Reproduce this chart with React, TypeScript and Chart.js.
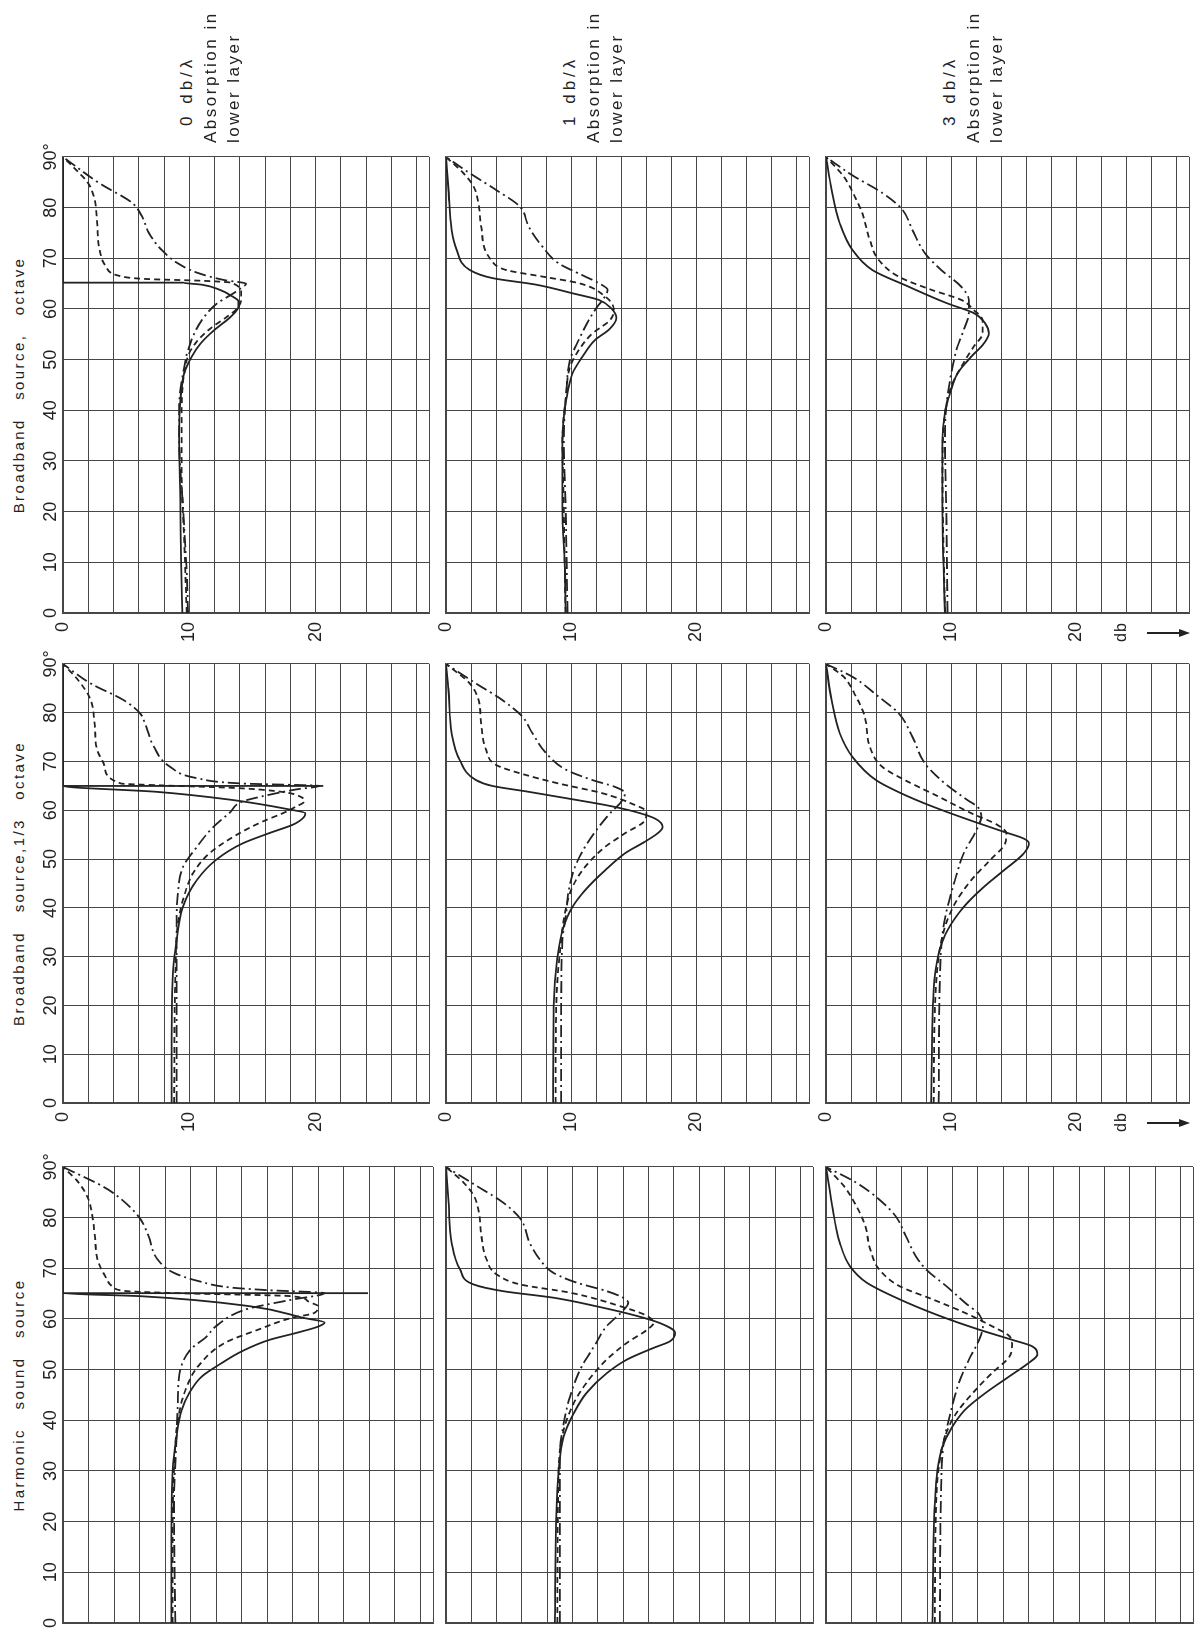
import React, { useEffect, useRef } from 'react';
import { Chart, registerables } from 'chart.js';

Chart.register(...registerables);

type Pt = [number, number];

// ---------- axis values ----------
const angleTicks = [0, 10, 20, 30, 40, 50, 60, 70, 80, 90];
const dbGrid = [0, 2, 4, 6, 8, 10, 12, 14, 16, 18, 20, 22, 24, 26, 28, 29];
const dbLabels = [0, 10, 20];
const ANGLE_MAX = 90;
const DB_MAX = 29;

// ---------- titles ----------
const sourceTitles = ['Harmonic sound source', 'Broadband source,1/3 octave', 'Broadband source, octave'];
const absorptionTitles = ['0 db/λ', '1 db/λ', '3 db/λ'];
const absorptionLine2 = 'Absorption in';
const absorptionLine3 = 'lower layer';
const unitLabel = 'db';

// ---------- data: [angle (deg), level (db)] ----------
// Harmonic sound source
const harm0Solid: Pt[] = [[0, 8.5], [17, 8.5], [30, 8.6], [36.8, 8.9], [42, 9.3], [45.4, 9.9], [48.7, 10.9], [51.4, 12.5], [53.6, 14], [55.9, 16.2], [57.2, 18.2], [58.5, 20], [59.3, 20.5], [60.2, 18.9], [62.5, 14.7], [64.5, 6.1], [65.1, 0], [65.1, 23.9], [65.1, 0], [90, 0]];
const harm0Dashed: Pt[] = [[0, 8.6], [20, 8.6], [35, 8.8], [40, 9], [46, 9.6], [50.7, 10.6], [55.3, 12.7], [57.9, 15.3], [60.2, 17.9], [61.2, 19.7], [62.5, 20], [63.5, 19.2], [64.5, 17.9], [65.1, 9], [65.5, 5], [66.2, 4], [68.5, 3.3], [71.8, 2.7], [76.4, 2.5], [80.3, 2.3], [83.6, 2], [87, 1.2], [90, 0]];
const harm0DashDot: Pt[] = [[0, 8.8], [23.6, 8.7], [36.8, 8.9], [43.4, 9], [48.7, 9.1], [54, 10], [56.4, 11.2], [58.6, 12], [61.8, 14.2], [62.5, 15.3], [63.8, 17.9], [65.1, 20.5], [65.7, 16], [66.2, 13.2], [67.5, 10.6], [69.1, 8.7], [71.8, 7.4], [76.4, 6.7], [80.3, 5.9], [85.6, 3.5], [90, 0]];

const harm1Solid: Pt[] = [[0, 8.6], [20.3, 8.7], [30.2, 8.9], [36.8, 9.3], [41.4, 10.1], [45.4, 11.1], [49.3, 12.7], [52, 14.3], [54.3, 16.4], [55.6, 17.7], [57.3, 18.1], [59.2, 16.9], [60.6, 15.1], [62.5, 11.9], [64.2, 8.5], [65.5, 4.5], [66.8, 2.2], [69.8, 1.1], [75, 0.45], [83, 0.2], [90, 0]];
const harm1Dashed: Pt[] = [[0, 8.8], [30.2, 8.9], [38.1, 9.3], [43.4, 10.1], [47.4, 11.1], [52, 12.7], [55.3, 14.3], [57.9, 15.9], [59.2, 16.4], [60.6, 15.9], [62.5, 13.8], [65.2, 9.8], [66.8, 5.9], [68.8, 4], [71.8, 3.2], [76.4, 2.8], [81, 2.6], [84.3, 2.2], [86.9, 1.4], [90, 0]];
const harm1DashDot: Pt[] = [[0, 9], [23.6, 9], [33.5, 9], [39.4, 9.3], [44.7, 9.8], [50, 10.6], [54.6, 11.7], [58.6, 12.7], [61.2, 13.8], [63.2, 14.4], [64.2, 14], [65.5, 12.7], [67.2, 10.3], [69.1, 8.5], [71.8, 7.4], [75.1, 6.6], [79.7, 5.9], [83, 4.5], [86.3, 2.4], [90, 0]];

const harm3Solid: Pt[] = [[0, 8.4], [23.6, 8.6], [30.2, 8.8], [34.8, 9.2], [38.8, 10], [42.1, 11], [45.4, 12.6], [48.7, 14.5], [51.3, 16], [53, 16.7], [54.6, 16.3], [55.9, 14.7], [57.9, 12.1], [60.6, 9], [63.9, 5.8], [67.2, 3.2], [70.4, 1.9], [75, 1.1], [83, 0.45], [90, 0]];
const harm3Dashed: Pt[] = [[0, 8.6], [23.6, 8.7], [32.2, 9], [37.5, 9.5], [41.4, 10.3], [45.4, 11.6], [49.3, 13.1], [52.6, 14.5], [54.9, 14.7], [56.6, 14.5], [58.6, 13.1], [61.2, 11], [63.9, 8.4], [66.5, 5.8], [69.8, 4.2], [73.7, 3.5], [78.4, 3.1], [82.3, 2.4], [86.3, 1.4], [90, 0]];
const harm3DashDot: Pt[] = [[0, 9], [26.9, 9.1], [35.5, 9.3], [42.1, 9.9], [47.4, 10.5], [52, 11.3], [55.9, 12.1], [58.6, 12.4], [60.9, 12.1], [63.2, 11], [66.5, 9.5], [69.8, 7.9], [72.4, 7.1], [76.4, 6.3], [80.3, 5.5], [83.6, 4.2], [86.9, 2.4], [90, 0]];

// Broadband source, 1/3 octave
const third0Solid: Pt[] = [[0, 8.6], [12.9, 8.6], [26.5, 8.7], [33.4, 9], [40.2, 9.5], [45.7, 10.6], [49.8, 12.1], [53.2, 14.2], [55.3, 16.3], [57.3, 18.4], [59.4, 19.2], [60.2, 17.9], [62.2, 13.2], [63.8, 7.4], [65, 0], [65, 20.6], [65, 0], [90, 0]];
const third0Dashed: Pt[] = [[0, 8.8], [26.5, 8.9], [36.8, 9.1], [41.6, 9.5], [47.1, 10.3], [51.2, 11.6], [54.9, 13.7], [57.7, 15.8], [59.4, 17.4], [60.7, 18.4], [61.8, 19.1], [62.8, 18.8], [63.8, 17.3], [64.6, 13.5], [65.1, 8], [65.5, 4.6], [68.9, 3.3], [72.4, 2.7], [77.8, 2.5], [82.6, 2.2], [86.7, 1.2], [90, 0]];
const third0DashDot: Pt[] = [[0, 9], [26.5, 9], [36.8, 9], [43, 9.1], [48.4, 9.5], [52.5, 10.6], [56.6, 11.9], [59.5, 13.2], [61.8, 14.2], [63, 16], [64.3, 18.5], [65, 20.3], [65.5, 14.2], [66.6, 10.6], [68.9, 8.5], [73, 7.2], [77.8, 6.5], [79.9, 6.1], [82.6, 4.8], [86, 2.2], [90, 0]];

const third1Solid: Pt[] = [[0, 8.55], [19.7, 8.6], [30, 8.9], [35.4, 9.3], [40.2, 10.1], [43.6, 11.1], [47.7, 12.7], [51.2, 14.3], [53.6, 15.9], [55.3, 16.9], [56.6, 17.3], [58.3, 16.7], [59.7, 15.1], [61.1, 12.7], [62.4, 9.8], [63.8, 6.6], [65, 3.7], [66.2, 2.4], [70.3, 1.1], [75.8, 0.45], [84.7, 0.2], [90, 0]];
const third1Dashed: Pt[] = [[0, 8.75], [19.7, 8.8], [33.4, 9.2], [40.2, 9.6], [44.3, 10.1], [48.4, 11.1], [52.5, 12.7], [55.3, 14.3], [58, 15.9], [59.7, 16], [61.4, 14.8], [63.5, 12.5], [65.5, 9], [67.6, 5.9], [69.3, 4], [72.4, 3.2], [77.8, 2.8], [82.6, 2.6], [86, 1.9], [90, 0]];
const third1DashDot: Pt[] = [[0, 9.2], [19.7, 9.2], [33.4, 9.3], [38.9, 9.6], [43.6, 9.8], [48.4, 10.3], [52.5, 11.1], [56.6, 12.2], [59.4, 13.1], [61.8, 14], [63.5, 14.3], [64.8, 13.5], [66.2, 11.7], [68.3, 9.6], [71.7, 8], [75.8, 6.9], [79.2, 6.1], [82.6, 4.5], [86, 2.4], [90, 0]];

const third3Solid: Pt[] = [[0, 8.4], [23.1, 8.6], [30.6, 9], [35.4, 9.7], [40.2, 11], [44.3, 12.6], [47.7, 14.2], [51.2, 15.8], [53.2, 16.2], [54.2, 15.8], [55.6, 14.2], [57.7, 11.8], [60.1, 9.2], [62.8, 6.6], [66.2, 4], [71, 2.1], [75.8, 1.1], [82.6, 0.45], [90, 0]];
const third3Dashed: Pt[] = [[0, 8.6], [19.7, 8.7], [30, 9], [36.1, 9.5], [40.9, 10.3], [45.7, 11.6], [49.8, 13.1], [53.2, 14.3], [55.3, 14.4], [57, 13.7], [59.4, 11.6], [62.8, 9], [66.2, 6.3], [68.9, 4.5], [73, 3.5], [79.2, 3.1], [83.3, 2.4], [87.4, 1.4], [90, 0]];
const third3DashDot: Pt[] = [[0, 9], [26.5, 9.1], [34.7, 9.3], [40.2, 9.7], [45.7, 10.3], [51.2, 11], [55.9, 12], [58.7, 12.4], [60.7, 12.1], [62.1, 11.3], [65.5, 9.5], [69.6, 7.9], [75.1, 6.9], [79.9, 5.8], [83.3, 4.2], [87.4, 2.1], [90, 0]];

// Broadband source, octave
const oct0Solid: Pt[] = [[0, 9.45], [10, 9.35], [21, 9.3], [34, 9.2], [42, 9.3], [47.3, 9.6], [50.6, 10.2], [53.2, 10.9], [55.9, 12], [58.5, 13.3], [60.5, 13.9], [61.5, 13.9], [62.5, 13.4], [63.8, 12.4], [64.8, 11], [65.2, 9.5], [65.2, 0], [90, 0]];
const oct0Dashed: Pt[] = [[0, 9.8], [14.4, 9.6], [27.5, 9.4], [40.7, 9.4], [47.3, 9.6], [51.3, 10], [53.9, 10.7], [56.2, 11.7], [58.5, 13], [60.1, 13.8], [61.8, 14.1], [63.1, 14.1], [65.2, 13.3], [65.6, 10.7], [65.9, 6.8], [66.4, 4.7], [68.4, 3.4], [71.7, 2.9], [76.9, 2.7], [81.6, 2.5], [84.8, 2], [86.8, 1.3], [90, 0]];
const oct0DashDot: Pt[] = [[0, 9.9], [7.8, 9.8], [21, 9.5], [34.1, 9.2], [40.7, 9.2], [47.3, 9.5], [51.9, 9.9], [55.2, 10.4], [58.5, 11.2], [61.1, 12.2], [62.8, 13.3], [64.3, 14.2], [65, 14.5], [65.7, 12.8], [67.1, 10.7], [69, 9.1], [71.7, 7.8], [75, 6.8], [78.3, 6.25], [80.9, 5.5], [84.8, 2.9], [90, 0]];

const oct1Solid: Pt[] = [[0, 9.55], [7.8, 9.5], [21, 9.3], [34.1, 9.3], [42, 9.6], [47.3, 10.1], [50.6, 10.9], [53.9, 11.9], [55.9, 13], [58.2, 13.6], [60.1, 13.2], [61.8, 12.2], [63.1, 10.1], [64.8, 7.2], [66.1, 3.7], [67.7, 1.9], [71.7, 0.85], [75.6, 0.45], [83.5, 0.2], [90, 0]];
const oct1Dashed: Pt[] = [[0, 9.55], [21, 9.4], [34.1, 9.3], [43.3, 9.6], [48.6, 9.9], [51.9, 10.6], [55.2, 11.7], [57.8, 13.1], [59.8, 13.4], [62.5, 12.7], [65.1, 10.6], [66.4, 7.7], [67.7, 4.8], [69.7, 3.6], [76.3, 2.8], [80.9, 2.6], [84.2, 2.2], [86.8, 1.4], [90, 0]];
const oct1DashDot: Pt[] = [[0, 9.7], [21, 9.55], [34.1, 9.4], [43.3, 9.6], [49.9, 9.9], [53.9, 10.6], [57.8, 11.4], [60.5, 12.1], [62.1, 12.6], [63.8, 12.9], [65.1, 12.2], [67, 10.6], [69, 9], [72.3, 7.7], [76.3, 6.6], [80.2, 5.9], [83.5, 4], [86.8, 1.9], [90, 0]];

const oct3Solid: Pt[] = [[0, 9.5], [21, 9.3], [34.1, 9.3], [39.4, 9.5], [43.3, 9.9], [47.3, 10.5], [50.6, 11.6], [53.2, 12.6], [55.2, 13], [57.2, 12.7], [59.2, 11.8], [61.1, 9.7], [64.4, 6.6], [67.7, 3.7], [71.7, 2.1], [76.9, 1.1], [83.5, 0.45], [90, 0]];
const oct3Dashed: Pt[] = [[0, 9.5], [27.5, 9.3], [39.4, 9.5], [44.7, 10], [48.6, 10.8], [52.6, 11.8], [55.2, 12.5], [57.8, 12.5], [59.8, 11.8], [61.8, 10.8], [63.8, 8.4], [66.4, 5.8], [69.7, 4.2], [73.6, 3.5], [78.9, 2.9], [82.2, 2.3], [86.2, 1.4], [90, 0]];
const oct3DashDot: Pt[] = [[0, 9.7], [21, 9.6], [34.1, 9.5], [40.7, 9.6], [47.3, 10], [52.6, 10.5], [55.9, 11], [59.2, 11.4], [61.8, 11.4], [64.4, 10.8], [67.7, 9.2], [71, 7.9], [75.6, 6.9], [79.6, 6.1], [82.9, 4.5], [86.4, 2.1], [90, 0]];

// ---------- layout (natural, un-rotated frame: 1629 wide x 1196 tall) ----------
const PAGE_W = 1196;
const PAGE_H = 1629;
const colSpan: [number, number][] = [[6, 462], [526, 965], [1016, 1472]]; // harmonic, 1/3 octave, octave
const rowSpan: [number, number][] = [[63, 433], [446, 813], [826, 1193]]; // 0, 1, 3 db/lambda
const PAD_L = 50;
const PAD_T = 30;
const PAD_R = 26;
const PAD_B = 16;

const FONT = "'Liberation Sans', Arial, sans-serif";
const INK = '#222222';
const GRID = '#474747';

const LINE_STYLES = [
  { borderDash: [] as number[] },
  { borderDash: [6, 4] },
  { borderDash: [12, 4, 2, 4] },
];

type PanelSpec = { col: number; row: number; series: Pt[][] };

const panels: PanelSpec[] = [
  { col: 0, row: 0, series: [harm0Solid, harm0Dashed, harm0DashDot] },
  { col: 0, row: 1, series: [harm1Solid, harm1Dashed, harm1DashDot] },
  { col: 0, row: 2, series: [harm3Solid, harm3Dashed, harm3DashDot] },
  { col: 1, row: 0, series: [third0Solid, third0Dashed, third0DashDot] },
  { col: 1, row: 1, series: [third1Solid, third1Dashed, third1DashDot] },
  { col: 1, row: 2, series: [third3Solid, third3Dashed, third3DashDot] },
  { col: 2, row: 0, series: [oct0Solid, oct0Dashed, oct0DashDot] },
  { col: 2, row: 1, series: [oct1Solid, oct1Dashed, oct1DashDot] },
  { col: 2, row: 2, series: [oct3Solid, oct3Dashed, oct3DashDot] },
];

function Panel({ spec }: { spec: PanelSpec }) {
  const ref = useRef<HTMLCanvasElement | null>(null);
  const [x0, x1] = colSpan[spec.col];
  const [y0, y1] = rowSpan[spec.row];
  const w = x1 - x0;
  const h = y1 - y0;
  const cw = PAD_L + w + PAD_R;
  const ch = PAD_T + h + PAD_B;
  const showAngle = spec.row === 0;
  const showDb = spec.col !== 0;

  useEffect(() => {
    if (!ref.current) return;
    const chart = new Chart(ref.current, {
      type: 'scatter',
      data: {
        datasets: spec.series.map((s, i) => ({
          data: s.map(([a, d]) => ({ x: a, y: d })),
          showLine: true,
          borderColor: INK,
          borderWidth: 1.8,
          borderDash: LINE_STYLES[i].borderDash,
          pointRadius: 0,
          pointHoverRadius: 0,
          cubicInterpolationMode: 'monotone' as const,
          fill: false,
        })),
      },
      options: {
        animation: false,
        responsive: false,
        devicePixelRatio: 1,
        events: [],
        layout: { padding: { left: 0, top: 0, right: PAD_R, bottom: PAD_B } },
        plugins: { legend: { display: false }, tooltip: { enabled: false }, title: { display: false } },
        scales: {
          x: {
            type: 'linear',
            position: 'top',
            min: 0,
            max: ANGLE_MAX,
            afterBuildTicks: (ax: any) => {
              ax.ticks = angleTicks.map((v) => ({ value: v }));
            },
            afterFit: (ax: any) => {
              ax.height = PAD_T;
            },
            ticks: {
              display: showAngle,
              autoSkip: false,
              maxRotation: 0,
              minRotation: 0,
              padding: 1,
              color: INK,
              font: { family: FONT, size: 18 },
              callback: (v: any) => (Number(v) === 90 ? '90°' : String(v)),
            },
            grid: { color: GRID, lineWidth: 1, drawTicks: false },
            border: { display: true, color: GRID, width: 1.4 },
          },
          y: {
            type: 'linear',
            position: 'left',
            reverse: true,
            min: 0,
            max: DB_MAX,
            afterBuildTicks: (ax: any) => {
              ax.ticks = dbGrid.map((v) => ({ value: v }));
            },
            afterFit: (ax: any) => {
              ax.width = PAD_L;
            },
            ticks: {
              display: showDb,
              autoSkip: false,
              padding: 9,
              color: INK,
              font: { family: FONT, size: 18 },
              callback: (v: any) => (dbLabels.includes(Number(v)) ? String(v) : ''),
            },
            grid: { color: GRID, lineWidth: 1, drawTicks: false },
            border: { display: true, color: GRID, width: 1.4 },
          },
        },
      },
    } as any);
    return () => chart.destroy();
  }, []);

  return (
    <canvas
      ref={ref}
      width={cw}
      height={ch}
      style={{ position: 'absolute', left: x0 - PAD_L, top: y0 - PAD_T, width: cw, height: ch }}
    />
  );
}

const textBase: React.CSSProperties = {
  position: 'absolute',
  fontFamily: FONT,
  color: INK,
  whiteSpace: 'pre',
  lineHeight: 1,
};

export default function App() {
  const headerTops = [178, 202, 225];
  return (
    <div style={{ position: 'absolute', left: 0, top: 0, width: PAGE_W, height: PAGE_H, overflow: 'hidden', background: '#ffffff' }}>
      <div
        style={{
          position: 'absolute',
          left: 0,
          top: 0,
          width: PAGE_H,
          height: PAGE_W,
          transformOrigin: '0 0',
          transform: `translate(0px, ${PAGE_H}px) rotate(-90deg)`,
        }}
      >
        {panels.map((p, i) => (
          <Panel key={i} spec={p} />
        ))}

        {sourceTitles.map((t, c) => {
          const center = (colSpan[c][0] + colSpan[c][1]) / 2;
          return (
            <div key={'s' + c} style={{ ...textBase, left: center - 200, width: 400, top: 11, fontSize: 15, letterSpacing: 2.4, wordSpacing: 12, textAlign: 'center' }}>
              {t}
            </div>
          );
        })}

        {absorptionTitles.map((t, r) => {
          const off = rowSpan[r][0] - rowSpan[0][0];
          return (
            <React.Fragment key={'a' + r}>
              <div style={{ ...textBase, left: 1503, top: headerTops[0] + off, fontSize: 17, letterSpacing: 4 }}>{t}</div>
              <div style={{ ...textBase, left: 1486, top: headerTops[1] + off, fontSize: 17, letterSpacing: 2.5 }}>{absorptionLine2}</div>
              <div style={{ ...textBase, left: 1486, top: headerTops[2] + off, fontSize: 17, letterSpacing: 2.5 }}>{absorptionLine3}</div>
            </React.Fragment>
          );
        })}

        {[2, 1].map((c) => {
          const xMid = colSpan[c][0] - 20;
          return (
            <React.Fragment key={'u' + c}>
              <div style={{ ...textBase, left: xMid - 9, top: 1113, fontSize: 16, letterSpacing: 1 }}>{unitLabel}</div>
              <div style={{ position: 'absolute', left: xMid - 0.75, top: 1147, width: 1.5, height: 34, background: INK }} />
              <div
                style={{
                  position: 'absolute',
                  left: xMid - 4,
                  top: 1179,
                  width: 0,
                  height: 0,
                  borderLeft: '4px solid transparent',
                  borderRight: '4px solid transparent',
                  borderTop: `11px solid ${INK}`,
                }}
              />
            </React.Fragment>
          );
        })}
      </div>
    </div>
  );
}
